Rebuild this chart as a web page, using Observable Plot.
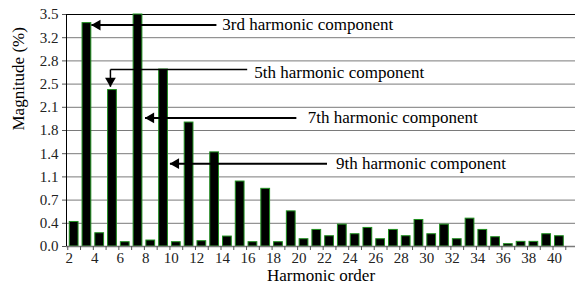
<!DOCTYPE html>
<html><head><meta charset="utf-8">
<script src="https://cdn.jsdelivr.net/npm/d3@7"></script>
<script src="https://cdn.jsdelivr.net/npm/@observablehq/plot@0.6"></script>
<style>body{margin:0;background:#fff} svg text{font-family:"Liberation Serif","Times New Roman",serif !important;}</style>
</head><body><div id="chart"></div>
<script>
const harmonics = [2,3,4,5,6,7,8,9,10,11,12,13,14,15,16,17,18,19,20,21,22,23,24,25,26,27,28,29,30,31,32,33,34,35,36,37,38,39,40];
const magnitudes = [0.37,3.37,0.2,2.36,0.065,3.5,0.09,2.67,0.065,1.87,0.08,1.42,0.15,0.98,0.065,0.87,0.065,0.53,0.11,0.25,0.155,0.33,0.185,0.28,0.11,0.25,0.155,0.4,0.185,0.33,0.11,0.42,0.25,0.14,0.035,0.07,0.07,0.185,0.155];
const yTicks = [0,0.35,0.7,1.05,1.4,1.75,2.1,2.45,2.8,3.15,3.5];
const yTickLabels = ["0.0","0.4","0.7","1.1","1.4","1.8","2.1","2.5","2.8","3.2","3.5"];
const xTicks = [2,4,6,8,10,12,14,16,18,20,22,24,26,28,30,32,34,36,38,40];
const xDomain = [1.4, 41.26];

// annotations
const annotationLabels = ["3rd harmonic component","5th harmonic component","7th harmonic component","9th harmonic component"];
const annotationTextX = [13.6, 16.1, 20.3, 22.5];
const annotationTextY = [3.35, 2.63, 1.94, 1.25];
// arrow line segments
const segX1 = [13.14, 15.55, 4.84, 19.4, 21.8];
const segY1 = [3.34, 2.67, 2.67, 1.94, 1.25];
const segX2 = [3.35, 4.84, 4.84, 7.55, 9.5];
const segY2 = [3.34, 2.67, 2.41, 1.94, 1.25];
const segWidth = [2, 1.5, 1.5, 2, 2];
// arrow heads pointing left
const headLeftX = [3.35, 7.55, 9.5];
const headLeftY = [3.34, 1.94, 1.25];
// arrow heads pointing down
const headDownX = [4.84];
const headDownY = [2.41];

const FONT = "'Liberation Serif', 'Times New Roman', serif";
const bars = harmonics.map((h, i) => ({h, v: magnitudes[i]}));
const labelMap = new Map(yTicks.map((t, i) => [t, yTickLabels[i]]));
const boundaries = harmonics.map(h => h - 0.5).concat([harmonics[harmonics.length - 1] + 0.5]);
const segs = segX1.map((x, i) => ({x1: x, y1: segY1[i], x2: segX2[i], y2: segY2[i], w: segWidth[i]}));
const ann = annotationLabels.map((t, i) => ({t, x: annotationTextX[i], y: annotationTextY[i]}));
const headsL = headLeftX.map((x, i) => ({x, y: headLeftY[i]}));
const headsD = headDownX.map((x, i) => ({x, y: headDownY[i]}));

const chart = Plot.plot({
  width: 575,
  height: 291,
  marginLeft: 66,
  marginRight: 0,
  marginTop: 14,
  marginBottom: 45,
  style: {fontFamily: FONT, fontSize: "15px", color: "#222", background: "#fff"},
  x: {type: "linear", domain: xDomain},
  y: {domain: [0, 3.5]},
  marks: [
    Plot.gridY({ticks: yTicks, stroke: "#7a7a7a", strokeOpacity: 1}),
    Plot.ruleY([3.5], {stroke: "#000"}),
    Plot.rectY(bars, {x1: d => d.h - 0.5, x2: d => d.h + 0.5, y: "v", insetLeft: 2, insetRight: 2, fill: "#000", stroke: "#1f8f1f", strokeWidth: 1}),
    Plot.ruleY([0], {stroke: "#7a7a7a", strokeWidth: 1.5}),
    Plot.ruleX([xDomain[0]], {stroke: "#000"}),
    Plot.axisY({ticks: yTicks, tickFormat: d => labelMap.get(d), tickSize: 4, tickPadding: 4, fontSize: 15, fontFamily: FONT, label: null, stroke: "#555"}),
    Plot.axisX({ticks: xTicks, tickFormat: d => String(d), tickSize: 0, tickPadding: 6, fontSize: 15, fontFamily: FONT, label: null, dx: -5}),
    Plot.axisX({ticks: boundaries, tickFormat: () => "", tickSize: 4, label: null, stroke: "#555"}),
    Plot.text(["Harmonic order"], {frameAnchor: "bottom", dy: 34, fontSize: 17, fontFamily: FONT, fill: "#000"}),
    Plot.text(["Magnitude (%)"], {frameAnchor: "left", rotate: -90, dx: -48, fontSize: 17, fontFamily: FONT, fill: "#000"}),
    Plot.link(segs, {x1: "x1", y1: "y1", x2: "x2", y2: "y2", stroke: "#000", strokeWidth: d => d.w}),
    Plot.dot(headsL, {x: "x", y: "y", symbol: "triangle", r: 4, rotate: -90, dx: 6, fill: "#000", stroke: "none"}),
    Plot.dot(headsD, {x: "x", y: "y", symbol: "triangle", r: 4, rotate: 180, dy: -6, fill: "#000", stroke: "none"}),
    Plot.text(ann, {x: "x", y: "y", text: "t", textAnchor: "start", fontSize: 17, fontFamily: FONT, fill: "#000"})
  ]
});
document.getElementById("chart").appendChild(chart);
</script>
</body></html>
